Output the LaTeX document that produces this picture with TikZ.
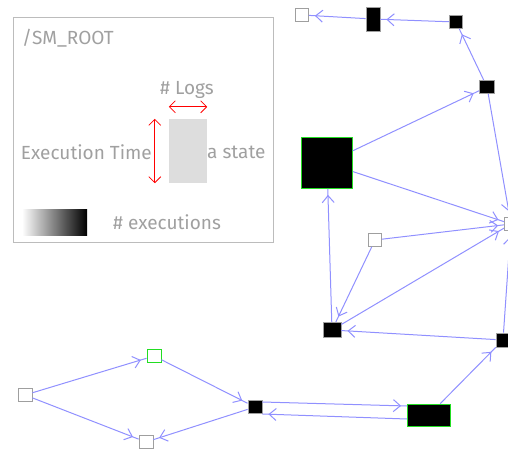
\documentclass[tikz,border=0pt]{standalone}
\usepackage{fontspec}
\setmainfont{Fira Sans}
\usetikzlibrary{arrows.meta,decorations.markings}
\definecolor{edgeblue}{HTML}{9090FF}
\definecolor{legendgray}{HTML}{A0A0A0}
\definecolor{hitgreen}{HTML}{22DD22}
\tikzset{
  state/.style={draw=gray!75,line width=0.8pt,inner sep=0pt,minimum width=13pt,minimum height=13pt},
  busy/.style={state,fill=black},
  idle/.style={state,fill=white},
  hit/.style={draw=hitgreen},
  flow/.style={draw=edgeblue,line width=1pt,postaction={decorate},
    decoration={markings,mark=at position -6pt with {\arrow[edgeblue]{Straight Barb[length=7pt,width=12pt]}}}},
  legendtext/.style={text=legendgray,inner sep=0pt,font=\fontsize{19}{21}\selectfont},
  measure/.style={red,line width=0.8pt,{Straight Barb[length=6pt,width=12pt]}-{Straight Barb[length=6pt,width=12pt]}},
}
\begin{document}
\begin{tikzpicture}[x=1pt,y=-1pt]
\useasboundingbox (0,0) rectangle (508,450);
% legend
\draw[legendgray!70,line width=0.8pt] (13,17) rectangle (273,242);
\node[legendtext,anchor=west] (root) at (22,38) {/SM\_ROOT};
\node[fill=gray!27,inner sep=0pt,minimum width=38pt,minimum height=64pt] (sample) at (188,151) {};
\node[legendtext] (logs) at (187,90) {\# Logs};
\node[legendtext,anchor=west] (statelbl) at (207,152) {a state};
\node[legendtext,anchor=east] (timelbl) at (152,152) {Execution Time};
\draw[measure] ([yshift=12pt]sample.north west) -- ([yshift=12pt]sample.north east);
\draw[measure] ([xshift=-14pt]sample.north west) -- ([xshift=-14pt]sample.south west);
\node[left color=white,right color=black,inner sep=0pt,minimum width=65pt,minimum height=26pt] (shade) at (54.5,222) {};
\node[legendtext,anchor=west] (execlbl) at (113,222) {\# executions};
% states
\node[idle] (s1) at (302,15) {};
\node[busy,minimum width=14pt,minimum height=24pt] (s2) at (373,19) {};
\node[busy] (s3) at (456,22) {};
\node[busy,minimum width=15pt] (s4) at (487,87) {};
\node[busy,hit,minimum width=51pt,minimum height=51pt] (s5) at (327,163) {};
\node[idle] (s6) at (375,240) {};
\node[idle] (s7) at (511,224) {};
\node[busy,minimum width=18pt,minimum height=15pt] (s8) at (332,330) {};
\node[busy,minimum width=14pt,minimum height=14pt] (s9) at (503,340) {};
\node[busy,hit,minimum width=43pt,minimum height=22pt] (s10) at (429,415) {};
\node[busy,minimum width=14pt] (s11) at (255,407) {};
\node[idle,hit,minimum width=14pt] (s12) at (154,356) {};
\node[idle,minimum width=14pt] (s13) at (25,395) {};
\node[idle,minimum width=14pt] (s14) at (146,442) {};
% transitions
\foreach \a/\b in {s3/s2,s2/s1,s4/s3,s5/s4,s5/s7,s6/s7,s8/s7,s4/s7,s9/s7,
  s8/s5,s6/s8,s9/s8,s10/s9,s13/s12,s13/s14,s12/s11,s11/s14}
  \draw[flow] (\a) -- (\b);
\draw[flow] ([yshift=5pt]s11.east) -- ([yshift=9pt]s10.west);
\draw[flow] ([yshift=-4pt]s10.west) -- ([yshift=-7pt]s11.east);
\end{tikzpicture}
\end{document}
